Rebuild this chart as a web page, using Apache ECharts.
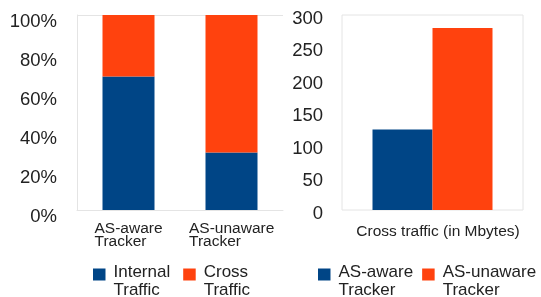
<!DOCTYPE html>
<html>
<head>
<meta charset="utf-8">
<script src="https://cdn.jsdelivr.net/npm/echarts@6/dist/echarts.min.js"></script>
<style>
  html, body { margin: 0; padding: 0; background: #fff; }
  #main { width: 541px; height: 297px; }
</style>
</head>
<body>
<div id="main"></div>
<script>
// left chart: share of traffic (100% stacked)
const shareCategories = ['AS-aware\nTracker', 'AS-unaware\nTracker'];
const internalShare = [68.5, 29.5];
const crossShare = [31.5, 70.5];
const shareTicks = ['0%', '20%', '40%', '60%', '80%', '100%'];

// right chart: cross traffic volume
const volumeCategories = ['Cross traffic (in Mbytes)'];
const awareVolume = [124];
const unawareVolume = [280];
const volumeTicks = [0, 50, 100, 150, 200, 250, 300];

const BLUE = '#004586';
const ORANGE = '#ff420e';
const FONT = 'Liberation Sans, Arial, sans-serif';
const TEXT = '#222';

var chart = echarts.init(document.getElementById('main'));

// legend names are two lines; an empty spacer line keeps the first line level with the square
const legendText = {
  color: TEXT, fontSize: 17, fontFamily: FONT,
  rich: {
    s: { lineHeight: 14, fontSize: 17 },
    t: { lineHeight: 18, fontSize: 17, color: TEXT, fontFamily: FONT, padding: [0, 0, 0, 3] }
  }
};
const legendFormat = n => '{s| }\n' + n.split(' ').map(p => '{t|' + p + '}').join('\n');

const option = {
  animation: false,
  textStyle: { fontFamily: FONT },
  grid: [
    { left: 77, top: 15, width: 206, height: 195 },
    { left: 342, top: 15, width: 181, height: 195, show: true, borderColor: '#e4e4e4', borderWidth: 1 }
  ],
  xAxis: [
    {
      gridIndex: 0, type: 'category', data: shareCategories,
      axisLine: { lineStyle: { color: '#e4e4e4' } },
      axisTick: { show: false },
      axisLabel: {
        color: TEXT, fontSize: 15.5, lineHeight: 13, margin: 12, interval: 0,
        // lines left aligned inside a centred block
        formatter: (v, i) => v.split('\n').map(s => '{w' + i + '|' + s + '}').join('\n'),
        rich: {
          w0: { width: 68, align: 'left', fontSize: 15.5, lineHeight: 13, color: TEXT, fontFamily: FONT },
          w1: { width: 85, align: 'left', fontSize: 15.5, lineHeight: 13, color: TEXT, fontFamily: FONT }
        }
      }
    },
    {
      gridIndex: 1, type: 'category', data: volumeCategories,
      axisLine: { show: false },
      axisTick: { show: false },
      axisLabel: { color: TEXT, fontSize: 15.5, lineHeight: 13, margin: 15, padding: [0, 0, 0, 11] }
    }
  ],
  yAxis: [
    {
      gridIndex: 0, type: 'value', min: 0, max: 100, interval: 20,
      axisLine: { show: true, lineStyle: { color: '#e4e4e4' } },
      axisTick: { show: false },
      splitLine: { show: true, lineStyle: { color: ['transparent', 'transparent', 'transparent', 'transparent', 'transparent', '#e4e4e4'] } },
      axisLabel: {
        color: TEXT, fontSize: 18.5, margin: 20, verticalAlign: 'top', lineHeight: 13,
        formatter: v => shareTicks[Math.round(v / 20)]
      }
    },
    {
      gridIndex: 1, type: 'value', min: 0, max: 300, interval: 50,
      axisLine: { show: false },
      axisTick: { show: false },
      splitLine: { show: false },
      axisLabel: {
        color: TEXT, fontSize: 18.5, margin: 19, verticalAlign: 'top', lineHeight: 7,
        formatter: v => String(volumeTicks[Math.round(v / 50)])
      }
    }
  ],
  legend: [
    {
      data: ['Internal Traffic', 'Cross Traffic'],
      left: 88, top: 243, width: 200, icon: 'rect', itemWidth: 12.5, itemHeight: 12, itemGap: 13,
      formatter: legendFormat,
      textStyle: legendText
    },
    {
      data: ['AS-aware Tracker', 'AS-unaware Tracker'],
      left: 313, top: 243, width: 260, icon: 'rect', itemWidth: 12.5, itemHeight: 12, itemGap: 9,
      formatter: legendFormat,
      textStyle: legendText
    }
  ],
  series: [
    { name: 'Internal Traffic', type: 'bar', stack: 'share', xAxisIndex: 0, yAxisIndex: 0, barWidth: 52, data: internalShare, itemStyle: { color: BLUE } },
    { name: 'Cross Traffic', type: 'bar', stack: 'share', xAxisIndex: 0, yAxisIndex: 0, barWidth: 52, data: crossShare, itemStyle: { color: ORANGE } },
    { name: 'AS-aware Tracker', type: 'bar', xAxisIndex: 1, yAxisIndex: 1, barWidth: 60, barGap: '0%', data: awareVolume, itemStyle: { color: BLUE } },
    { name: 'AS-unaware Tracker', type: 'bar', xAxisIndex: 1, yAxisIndex: 1, barWidth: 60, barGap: '0%', data: unawareVolume, itemStyle: { color: ORANGE } }
  ]
};

chart.setOption(option);
</script>
</body>
</html>
